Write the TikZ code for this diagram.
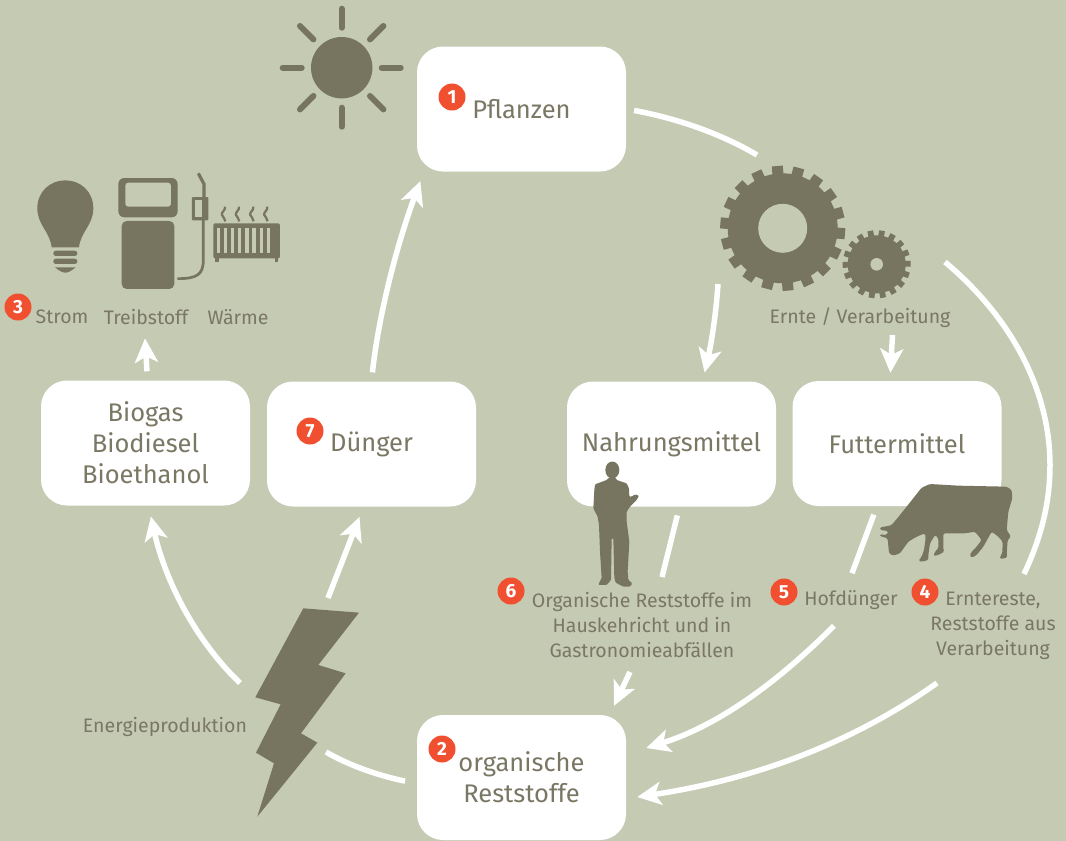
\documentclass[tikz,border=0pt]{standalone}
\usepackage{fontspec}
\setmainfont{Fira Sans}
\usetikzlibrary{arrows.meta}
\definecolor{grund}{RGB}{197,202,179}
\definecolor{ink}{RGB}{119,116,95}
\definecolor{schrift}{RGB}{122,119,100}
\definecolor{punkt}{RGB}{241,80,48}
\tikzset{
	stoffbox/.style={fill=white,rounded corners=26pt,minimum width=209pt,minimum height=125pt,inner sep=0pt,align=center,text=schrift,font=\fontsize{25.5}{31}\selectfont},
	klein/.style={inner sep=0pt,align=center,text=schrift,font=\fontsize{19.5}{25}\selectfont},
	badge/.style={circle,fill=punkt,minimum size=27pt,inner sep=0pt,text=white,font=\bfseries\fontsize{19}{19}\selectfont},
	strich/.style={draw=white,line width=5.5pt},
	flow/.style={strich,-{Stealth[length=24pt,width=23pt,inset=6pt]}},
	strahl/.style={draw=ink,line width=6pt,line cap=round}
}
\begin{document}
\begin{tikzpicture}[x=1pt,y=-1pt]
	\fill[grund] (0,0) rectangle (1066,841);
	\useasboundingbox (0,0) rectangle (1066,841);

	\node[stoffbox] (pflanzen) at (521.5,109) {Pflanzen};
	\node[stoffbox] (nahrung) at (671.5,444) {Nahrungsmittel};
	\node[stoffbox] (futter) at (897,443.5) {Futtermittel};
	\node[stoffbox] (biogas) at (145.5,443) {Biogas\\Biodiesel\\Bioethanol};
	\node[stoffbox] (duenger) at (371.5,444) {Dünger};
	\node[stoffbox] (organisch) at (521.5,777.5) {organische\\Reststoffe};

	\node[klein] (strom) at (62,317) {Strom};
	\node[klein] (treibstoff) at (146,317) {Treibstoff};
	\node[klein] (waerme) at (238,317) {Wärme};
	\node[klein] (ernte) at (860,318) {Ernte / Verarbeitung};
	\node[klein] (energie) at (165,727) {Energieproduktion};
	\node[klein] (haushalt) at (642,625) {Organische Reststoffe im\\Hauskehricht und in\\Gastronomieabfällen};
	\node[klein] (hofduenger) at (851,600) {Hofdünger};
	\node[klein] (erntereste) at (993,626) {Erntereste,\\Reststoffe aus\\Verarbeitung};

	\node[badge] (eins) at (452,97) {1};
	\node[badge] (zwei) at (442,749) {2};
	\node[badge] (drei) at (18,307) {3};
	\node[badge] (vier) at (925,592) {4};
	\node[badge] (fuenf) at (784,592) {5};
	\node[badge] (sechs) at (511,591) {6};
	\node[badge] (sieben) at (310,431) {7};

	\coordinate (sonne) at (341.7,67.7);
	\coordinate (grossrad) at (782.7,228.3);
	\coordinate (kleinrad) at (876.7,264.3);
	\coordinate (radein) at (757,155);
	\coordinate (radaus) at (718,284);
	\coordinate (radrechts) at (945,262);
	\coordinate (ernteaus) at (892.5,335);
	\coordinate (blitzoben) at (328,598);
	\coordinate (blitzlinks) at (240,683);
	\coordinate (blitzrechts) at (326,752);

	\draw[strich,shorten <=8pt] (pflanzen.east) .. controls (675,118) and (720,133) .. (radein);
	\draw[strich] (radrechts) .. controls (1020,325) and (1050,400) .. (1050,465) .. controls (1050,505) and (1040,540) .. ([xshift=31pt,yshift=18pt]erntereste.north);
	\draw[flow,shorten >=9pt] (radaus) .. controls (716,315) and (711,345) .. ([xshift=31pt]nahrung.north);
	\draw[flow,shorten >=8pt] (ernteaus) -- ([xshift=-7pt]futter.north);
	\draw[strich,shorten <=9pt] ([xshift=8pt]nahrung.south) -- ([xshift=20pt,yshift=15pt]haushalt.north);
	\draw[strich,shorten <=9pt] ([xshift=-20pt]futter.south) -- ([xshift=1pt,yshift=17pt]hofduenger.north);
	\draw[flow] ([xshift=-17pt,yshift=-16pt]hofduenger.south) .. controls (780,680) and (720,725) .. ([xshift=20pt,yshift=29.5pt]organisch.east);
	\draw[flow] ([xshift=-56pt,yshift=-23pt]erntereste.south) .. controls (850,745) and (750,780) .. ([xshift=11pt,yshift=-19.5pt]organisch.east);
	\draw[flow] ([xshift=-12pt,yshift=-14pt]haushalt.south) -- ([xshift=92.5pt,yshift=9pt]organisch.north);
	\draw[strich,shorten <=12pt] ([yshift=-6pt]organisch.west) .. controls (380,776) and (350,766) .. (blitzrechts);
	\draw[flow,shorten >=11pt] (blitzlinks) .. controls (195,640) and (165,580) .. ([xshift=3pt]biogas.south);
	\draw[flow,shorten >=11pt] (blitzoben) -- ([xshift=-8pt]duenger.south);
	\draw[flow,shorten <=9pt,shorten >=10pt] (duenger.north) .. controls (378,320) and (395,250) .. ([xshift=7pt]pflanzen.south west);
	\draw[flow,shorten <=9pt] ([xshift=2pt]biogas.north) -- ([xshift=-1pt,yshift=-13.5pt]treibstoff.south);

	\fill[ink] (sonne) circle (30.7);
	\foreach \w in {0,45,...,315}
		\draw[strahl] (sonne) ++(\w:40) -- ++(\w:19);

	\fill[ink] (grossrad) circle (55);
	\foreach \w in {15,35,...,355}
		\fill[ink,shift={(grossrad)},rotate=\w] (50,-5.5) rectangle (62.5,5.5);
	\fill[grund] (grossrad) circle (24.5);
	\fill[ink] (kleinrad) circle (29);
	\foreach \w in {1,21,...,341}
		\fill[ink,shift={(kleinrad)},rotate=\w] (25,-2.9) rectangle (34,2.9);
	\fill[grund] (kleinrad) circle (6.3);

	\begin{scope}[shift={(220,590)},x=.3333pt,y=-.3333pt]
		\fill[ink] (250,55) -- (417,68) -- (295,225) -- (377,250) -- (243,430) -- (292,458) -- (112,680) -- (162,520) -- (108,488) -- (182,343) -- (106,322) -- cycle;
	\end{scope}

	\begin{scope}[shift={(875,475)},x=.3333pt,y=-.3333pt]
		\fill[ink,rounded corners=1.5pt] (140,38) -- (165,27) -- (250,32) -- (395,35) -- (410,45) -- (412,70) -- (400,110) -- (395,165) -- (408,185) -- (398,195) -- (395,240) -- (397,248) -- (375,252) -- (375,245) -- (382,235) -- (383,200) -- (370,185) -- (350,170) -- (325,215) -- (305,240) -- (290,248) -- (284,243) -- (290,230) -- (305,215) -- (320,195) -- (300,170) -- (270,175) -- (240,175) -- (205,175) -- (205,225) -- (208,230) -- (190,240) -- (175,243) -- (180,230) -- (190,220) -- (190,190) -- (180,180) -- (165,205) -- (160,240) -- (160,255) -- (140,260) -- (130,258) -- (140,245) -- (147,225) -- (152,190) -- (150,175) -- (125,185) -- (100,200) -- (75,235) -- (55,242) -- (42,235) -- (38,190) -- (15,183) -- (15,178) -- (35,180) -- (40,168) -- (15,165) -- (15,157) -- (40,153) -- (50,150) -- (75,120) -- cycle;
	\end{scope}

	\begin{scope}[shift={(585,455)},x=.3333pt,y=-.3333pt]
		\fill[ink] (82,45) ellipse (7pt and 8.5pt);
		\fill[ink,rounded corners=1pt] (72,68) -- (92,68) -- (95,75) -- (125,85) -- (132,100) -- (133,125) -- (140,125) -- (150,118) -- (162,122) -- (155,135) -- (135,155) -- (125,170) -- (125,200) -- (133,260) -- (128,350) -- (130,375) -- (142,385) -- (135,395) -- (115,395) -- (92,383) -- (88,370) -- (85,250) -- (80,250) -- (78,375) -- (65,390) -- (40,390) -- (45,378) -- (50,370) -- (45,290) -- (42,210) -- (38,185) -- (25,160) -- (28,105) -- (30,88) -- (65,75) -- cycle;
	\end{scope}

	\begin{scope}[shift={(0,160)},x=.3333pt,y=-.3333pt]
		\fill[ink] (155,262) .. controls (150,215) and (112,195) .. (112,145) .. controls (112,95) and (150,61) .. (196,61) .. controls (242,61) and (280,95) .. (280,145) .. controls (280,195) and (242,215) .. (237,262) -- cycle;
		\fill[ink,rounded corners=2.5pt] (160,272) rectangle (232,288);
		\fill[ink,rounded corners=2.5pt] (160,296) rectangle (232,312);
		\fill[ink] (165,322) -- (227,322) .. controls (215,332) and (205,338) .. (196,338) .. controls (187,338) and (177,332) .. (165,322) -- cycle;

		\fill[ink,rounded corners=6pt] (355,54) rectangle (533,172);
		\fill[grund,rounded corners=3pt] (376,68) rectangle (513,140);
		\fill[ink,rounded corners=5pt] (365,183) rectangle (523,387);
		\draw[ink,line width=2.7pt] (532,356) .. controls (590,356) and (610,345) .. (610,300) -- (610,180);
		\fill[ink,rounded corners=1pt] (576,111) rectangle (625,181);
		\fill[grund] (586,120) rectangle (605,172);
		\draw[ink,line width=3.2pt] (612,111) -- (612,72) -- (595,40);

		\fill[ink,rounded corners=1.5pt] (640,190) rectangle (840,295);
		\fill[ink] (645,295) rectangle (657,306);
		\fill[ink] (825,295) rectangle (835,306);
		\foreach \s in {650,671.5,...,820}
			\fill[grund] (\s,203) rectangle (\s+10,278);
		\foreach \s in {672,714,757,799}
			\draw[ink,line width=2.2pt] (\s+3,140) .. controls (\s+6,150) and (\s-10,158) .. (\s-6,165) .. controls (\s-3,172) and (\s+3,175) .. (\s+4,184);
	\end{scope}
\end{tikzpicture}
\end{document}
